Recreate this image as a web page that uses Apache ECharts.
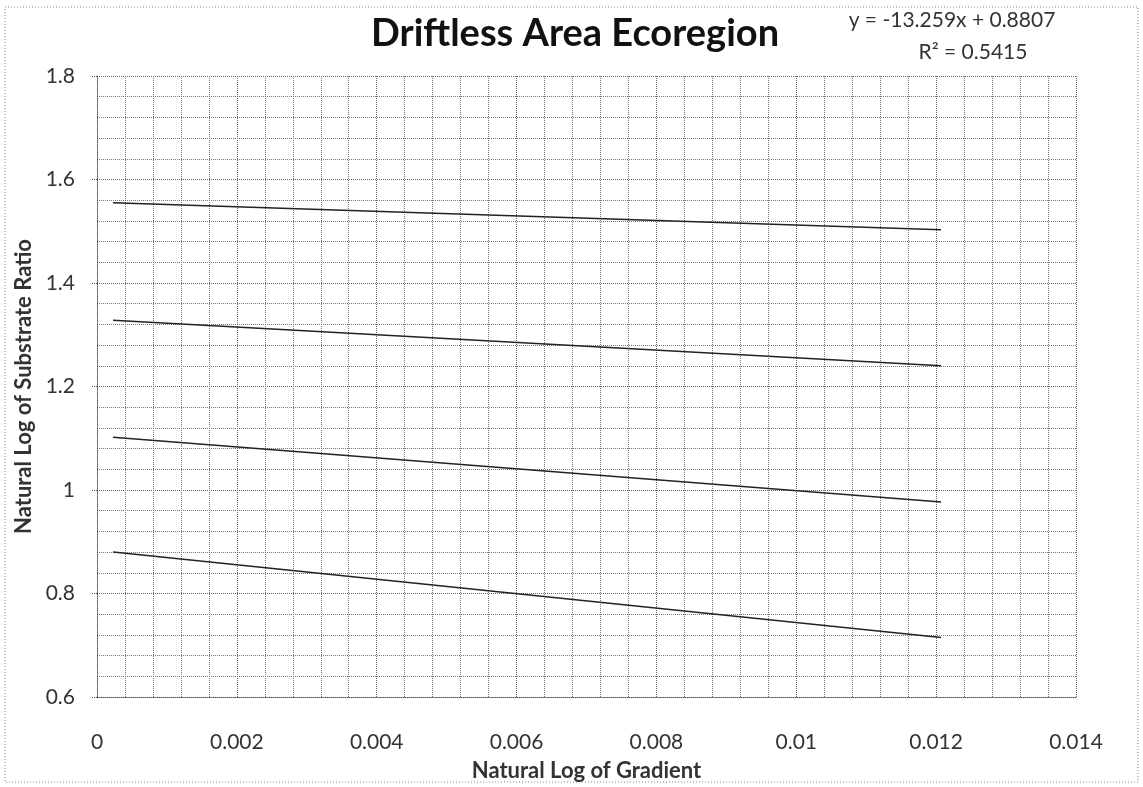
<!DOCTYPE html>
<html>
<head>
<meta charset="utf-8">
<script src="https://cdn.jsdelivr.net/npm/echarts@6/dist/echarts.min.js"></script>
<style>
  html, body { margin: 0; padding: 0; background: #fff; }
  #chart { width: 1143px; height: 787px; }
</style>
</head>
<body>
<div id="chart"></div>
<script>
// Data
const xTicks = [0, 0.002, 0.004, 0.006, 0.008, 0.01, 0.012, 0.014];
const yTicks = [0.6, 0.8, 1, 1.2, 1.4, 1.6, 1.8];
const lineX = [0.00023, 0.01207];
const line1 = [1.555, 1.503];
const line2 = [1.328, 1.240];
const line3 = [1.102, 0.977];
const line4 = [0.880, 0.715];
const titleText = 'Driftless Area Ecoregion';
const eqText = 'y = -13.259x + 0.8807';
const r2Text = 'R² = 0.5415';
const xName = 'Natural Log of Gradient';
const yName = 'Natural Log of Substrate Ratio';

const FONT = 'Lato, "Open Sans", sans-serif';
const chart = echarts.init(document.getElementById('chart'), null, { renderer: 'canvas' });

function mk(ys) {
  return {
    type: 'line',
    data: lineX.map((x, i) => [x, ys[i]]),
    symbol: 'none',
    lineStyle: { color: '#222', width: 1.5 },
    silent: true
  };
}

function fmt(ticks) {
  return v => { const t = ticks.find(t => Math.abs(t - v) < 1e-9); return t !== undefined ? String(t) : ''; };
}

const gridLine = { show: true, lineStyle: { color: '#666', type: 'dotted', width: 1 } };

chart.setOption({
  backgroundColor: '#fff',
  animation: false,
  title: {
    text: titleText,
    left: 570, top: 10,
    textAlign: 'center',
    textStyle: { fontFamily: FONT, fontSize: 38, fontWeight: 'bold', color: '#111' }
  },
  graphic: [
    { type: 'rect', shape: { x: 5, y: 7, width: 1133, height: 775 }, style: { fill: 'none', stroke: '#888', lineWidth: 1, lineDash: [1, 2] }, silent: true },
    { type: 'text', x: 952, y: 20, style: { text: eqText, font: '21px ' + FONT, fill: '#333', align: 'center', verticalAlign: 'middle' } },
    { type: 'text', x: 973, y: 52, style: { text: r2Text, font: '21px ' + FONT, fill: '#333', align: 'center', verticalAlign: 'middle' } }
  ],
  grid: { left: 97, right: 67, top: 76, bottom: 90 },
  xAxis: {
    type: 'value', min: 0, max: 0.014, interval: 0.002,
    name: xName, nameLocation: 'middle', nameGap: 63,
    nameTextStyle: { fontFamily: FONT, fontSize: 22, fontWeight: 'bold', color: '#333' },
    axisLine: { show: true, onZero: false, lineStyle: { color: '#555', type: 'dotted' } },
    axisTick: { show: false },
    axisLabel: { margin: 35, fontFamily: FONT, fontSize: 21, color: '#333', formatter: fmt(xTicks) },
    splitLine: gridLine,
    minorTick: { show: false, splitNumber: 5 },
    minorSplitLine: { show: true, lineStyle: { color: '#777', type: 'dotted', width: 1 } }
  },
  yAxis: {
    type: 'value', min: 0.6, max: 1.8, interval: 0.2,
    name: yName, nameLocation: 'middle', nameGap: 60,
    nameTextStyle: { fontFamily: FONT, fontSize: 22, fontWeight: 'bold', color: '#333' },
    axisLine: { show: true, lineStyle: { color: '#555', type: 'dotted' } },
    axisTick: { show: true, length: 5, lineStyle: { color: '#555', type: 'dotted' } },
    axisLabel: { margin: 22, fontFamily: FONT, fontSize: 21, color: '#333', formatter: fmt(yTicks) },
    splitLine: gridLine,
    minorTick: { show: false, splitNumber: 5 },
    minorSplitLine: { show: true, lineStyle: { color: '#777', type: 'dotted', width: 1 } }
  },
  series: [mk(line1), mk(line2), mk(line3), mk(line4)]
});
</script>
</body>
</html>
